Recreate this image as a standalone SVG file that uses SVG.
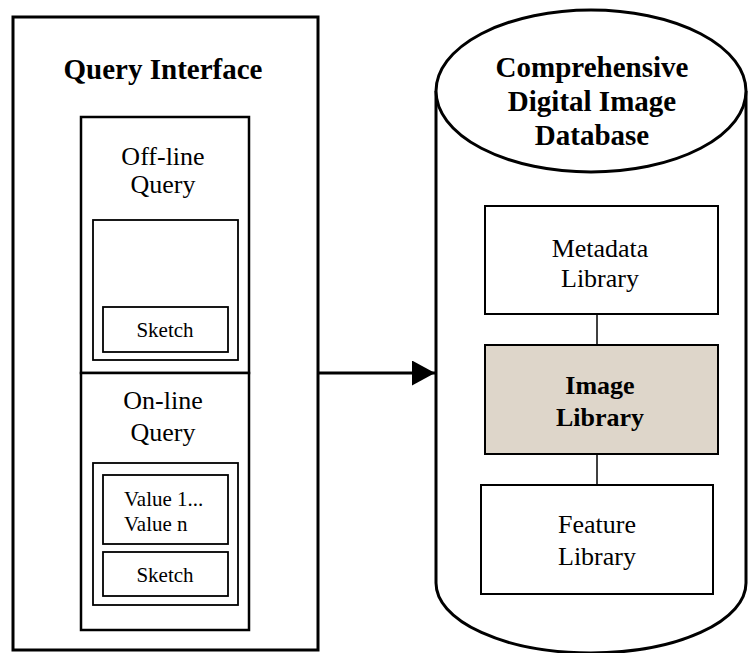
<svg xmlns="http://www.w3.org/2000/svg" width="748" height="653" viewBox="0 0 748 653">
<defs>
<style>
.t{font-family:"Liberation Serif","Times New Roman",serif;fill:#000;text-anchor:middle}
.b{font-weight:bold;font-size:29px}
.r{font-size:26px}
.s{font-size:21px}
.box{fill:#fff;stroke:#000}
</style>
<marker id="ah" markerWidth="24" markerHeight="26" refX="23" refY="12.5" orient="auto" markerUnits="userSpaceOnUse">
<path d="M0,0 L23,12.5 L0,25 Z" fill="#000"/>
</marker>
</defs>
<rect width="748" height="653" fill="#fff"/>

<g id="query-interface">
<rect class="box" x="13" y="17" width="305" height="633" stroke-width="3"/>
<text class="t b" x="163" y="79">Query Interface</text>
</g>

<g id="offline-query">
<rect class="box" x="81" y="117" width="168" height="256" stroke-width="2.5"/>
<text class="t r" x="163" y="165">Off-line</text>
<text class="t r" x="163" y="193">Query</text>
<rect class="box" x="93" y="220" width="145" height="140" stroke-width="1.8"/>
<rect class="box" x="103" y="307" width="125" height="45" stroke-width="1.8"/>
<text class="t s" x="165" y="337">Sketch</text>
</g>

<g id="online-query">
<rect class="box" x="81" y="373" width="168" height="257" stroke-width="2.5"/>
<text class="t r" x="163" y="409">On-line</text>
<text class="t r" x="163" y="441">Query</text>
<rect class="box" x="93" y="463" width="145" height="142" stroke-width="1.8"/>
<rect class="box" x="103" y="475" width="125" height="69" stroke-width="1.8"/>
<text class="t s" x="124" y="506" style="text-anchor:start">Value 1...</text>
<text class="t s" x="124" y="531" style="text-anchor:start">Value n</text>
<rect class="box" x="103" y="552" width="125" height="44" stroke-width="1.8"/>
<text class="t s" x="165" y="582">Sketch</text>
</g>

<g id="database">
<path d="M436,91 L436,583 A155,70 0 0 0 746,583 L746,91" fill="#fff" stroke="#000" stroke-width="3"/>
<ellipse cx="591" cy="91" rx="155" ry="81" fill="#fff" stroke="#000" stroke-width="3"/>
<text class="t b" x="592" y="77">Comprehensive</text>
<text class="t b" x="592" y="111">Digital Image</text>
<text class="t b" x="592" y="145">Database</text>
</g>

<g id="metadata-library">
<rect class="box" x="485" y="206" width="233" height="108" stroke-width="2"/>
<text class="t r" x="600" y="257">Metadata</text>
<text class="t r" x="600" y="287">Library</text>
</g>

<g id="image-library">
<rect x="485" y="345" width="233" height="109" fill="#ded6ca" stroke="#000" stroke-width="2"/>
<text class="t b" x="600" y="394" style="font-size:26px">Image</text>
<text class="t b" x="600" y="426" style="font-size:26px">Library</text>
</g>

<g id="feature-library">
<rect class="box" x="481" y="485" width="232" height="109" stroke-width="2"/>
<text class="t r" x="597" y="533">Feature</text>
<text class="t r" x="597" y="565">Library</text>
</g>

<g id="connectors" fill="none" stroke="#000">
<line x1="318" y1="373" x2="435" y2="373" stroke-width="3" marker-end="url(#ah)"/>
<line x1="597" y1="314" x2="597" y2="345" stroke-width="1.5"/>
<line x1="597" y1="454" x2="597" y2="485" stroke-width="1.5"/>
</g>
</svg>
